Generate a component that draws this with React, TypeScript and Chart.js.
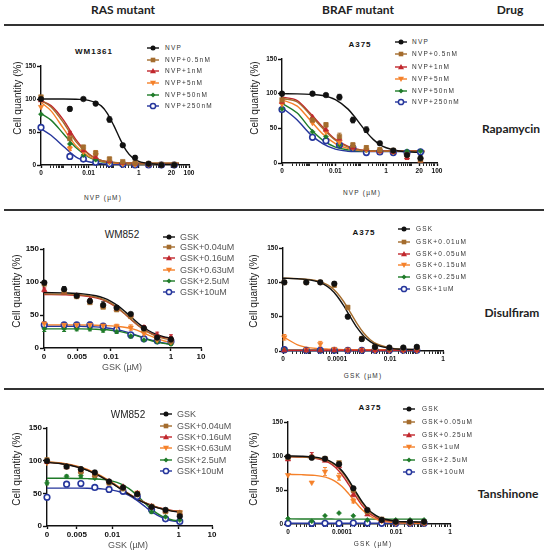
import React, { useEffect, useRef } from "react";
import { Chart, registerables } from "chart.js";
Chart.register(...registerables);

const SANS = "'Liberation Sans', Arial, sans-serif";
const HEAD = "Lato, 'Open Sans', sans-serif";
Chart.defaults.font.family = SANS;

// ---------- series colours / markers (same order in every panel) ----------
const COLORS = ["#111111", "#A46C2D", "#C1272D", "#F5812A", "#1F7B29", "#26369C"];
type Marker = "dot" | "square" | "tri" | "itri" | "diamond" | "ring";
const MARKERS: Marker[] = ["dot", "square", "tri", "itri", "diamond", "ring"];

// ---------- legend labels ----------
const nvpLabels = ["NVP", "NVP+0.5nM", "NVP+1nM", "NVP+5nM", "NVP+50nM", "NVP+250nM"];
const gskWmLabels = ["GSK", "GSK+0.04uM", "GSK+0.16uM", "GSK+0.63uM", "GSK+2.5uM", "GSK+10uM"];
const gskA375DisLabels = ["GSK", "GSK+0.01uM", "GSK+0.05uM", "GSK+0.15uM", "GSK+0.25uM", "GSK+1uM"];
const gskA375TanLabels = ["GSK", "GSK+0.05uM", "GSK+0.25uM", "GSK+1uM", "GSK+2.5uM", "GSK+10uM"];

// ---------- x tick labels ----------
const ticksNvpLabels = ["0", "0.01", "1", "20", "100"];
const ticksWmLabels = ["0", "0.005", "0.01", "1", "10"];
const ticksA375Labels = ["0", "0.0001", "0.01", "1"];

// ===== Panel 1: WM1361, NVP (Rapamycin) — x values are log10(µM) =====
const p1Ticks = [-3.9, -2, 0, 1.3, 2];
const p1Dose = [-3.9, -2.75, -2.21, -1.72, -1.17, -0.64, -0.15, 0.39, 0.9, 1.41];
const p1NVP = [100, 85, 100, 93, 69, 30, 11, 2, 0, 0];
const p1NVP05 = [103, 40, 27, 18, 9, 5, 3, 2, 1, 1];
const p1NVP1 = [98, 48, 22, 12, 6, 3, 2, 1, 0, 0];
const p1NVP5 = [88, 25, 20, 15, 5, 2, 1, 1, 0, 0];
const p1NVP50 = [77, 32, 15, 8, 4, 2, 1, 1, 0, 0];
const p1NVP250 = [57, 13, 9, 4, 2, 1, 0, 0, 0, 0];
const p1ErrNVP = [0, 3, 0, 2, 4, 2, 3, 0, 0, 0];
const p1Err05 = [0, 0, 3, 4, 3, 0, 0, 0, 0, 0];
const p1Err1 = [0, 3, 0, 0, 0, 0, 0, 0, 0, 0];
const p1Err5 = [0, 3, 0, 6, 0, 0, 0, 0, 0, 0];
const p1Err50 = [0, 0, 0, 0, 0, 0, 0, 0, 0, 0];
const p1Err250 = [2, 0, 0, 0, 0, 0, 0, 0, 0, 0];
const p1CurveX = [-3.9, -3.5, -3, -2.5, -2, -1.5, -1.25, -1, -0.75, -0.5, -0.25, 0, 0.5, 1, 1.6];
const p1FitNVP = [100, 100, 100, 99.6, 98, 89.6, 78, 60, 39.6, 21.8, 11, 5.5, 1.8, 1, 1];
const p1Fit05 = [98, 88, 64, 35, 16, 7, 5, 4, 3.5, 3, 3, 3, 3, 3, 3];
const p1Fit1 = [97, 90, 68, 38, 17, 7, 5, 4, 3, 3, 3, 2.5, 2.5, 2.5, 2.5];
const p1Fit5 = [95, 82, 55, 29, 13, 6, 4, 3, 2.5, 2, 2, 2, 2, 2, 2];
const p1Fit50 = [78, 68, 47, 26, 12, 5, 4, 3, 2.5, 2, 2, 2, 2, 2, 2];
const p1Fit250 = [55, 45, 28, 12, 5, 2, 1.5, 1, 1, 1, 1, 1, 1, 1, 1];

// ===== Panel 2: A375, NVP (Rapamycin) =====
const p2Ticks = [-4.1, -2, 0, 1.3, 2];
const p2Dose = [-4.1, -2.9, -2.37, -1.84, -1.31, -0.78, -0.25, 0.28, 0.82, 1.35];
const p2NVP = [100, 100, 98, 95, 62, 48, 28.5, 18, 11.6, 6.8];
const p2NVP05 = [91, 62, 55, 38, 26, 22, 19, 18, 12, 4];
const p2NVP1 = [88, 66, 48, 35, 22, 20, 17, 16, 8, 3];
const p2NVP5 = [85, 58, 45, 30, 22, 19, 17, 16, 10, 5];
const p2NVP50 = [78, 45, 38, 26, 22, 18, 17, 16, 17, 17];
const p2NVP250 = [77, 37, 32, 26, 22, 15, 16, 15, 15, 16];
const p2ErrNVP = [0, 0, 0, 4, 4, 4, 2, 0, 6, 4];
const p2Err05 = [0, 0, 3, 5, 3, 3, 3, 0, 0, 3];
const p2Err1 = [0, 0, 0, 0, 0, 0, 0, 0, 3, 0];
const p2Err5 = [0, 0, 0, 0, 0, 0, 0, 0, 0, 0];
const p2Err50 = [0, 0, 0, 0, 0, 0, 0, 0, 0, 0];
const p2Err250 = [0, 0, 0, 0, 0, 0, 0, 0, 0, 0];
const p2CurveX = [-4.1, -3.5, -3, -2.5, -2, -1.5, -1.25, -1, -0.75, -0.5, -0.25, 0, 0.5, 1, 1.5];
const p2FitNVP = [100, 99.7, 99, 97.4, 91.4, 77.7, 67, 55, 43.4, 33.7, 26.6, 22, 17.3, 15.8, 15.2];
const p2Fit05 = [93, 88, 70, 50, 33, 23, 20, 18.5, 18, 17.5, 17, 17, 17, 17, 17];
const p2Fit1 = [95, 90, 72, 52, 34, 24, 21, 19, 18, 17.5, 17.5, 17.5, 17.5, 17.5, 17.5];
const p2Fit5 = [91, 82, 62, 42, 28, 21, 19, 18, 17.5, 17, 17, 17, 17, 17, 17];
const p2Fit50 = [86, 72, 50, 33, 23, 19, 18, 17.5, 17, 17, 17, 17, 17, 17, 17];
const p2Fit250 = [80, 62, 42, 28, 20, 17, 16.5, 16.5, 16.5, 16.5, 16.5, 16.5, 16.5, 16.5, 16.5];

// ===== Panel 3: WM852, GSK (Disulfiram) =====
const p3Ticks = [-4.23, -3.13, -2, 0, 1];
const p3Dose = [-4.22, -3.56, -3.14, -2.7, -2.26, -1.81, -1.34, -0.9, -0.46, 0];
const p3GSK = [99, 89, 79, 71, 65, 61, 51.5, 30, 16, 13];
const p3G004 = [97, 86, 78, 69, 62, 58, 48, 28, 15, 10];
const p3G016 = [88, 84, 79, 73, 64, 59, 50, 31, 20, 16];
const p3G063 = [37, 35, 35, 35, 34, 33, 31, 22, 12, 9];
const p3G25 = [29, 29, 29, 29, 27, 25, 18, 12, 9, 6];
const p3G10 = [35, 35, 35, 35, 33, 28, 20, 14, 11, 10];
const p3ErrGSK = [0, 4, 2, 4, 5, 3, 2, 3, 3, 4];
const p3Err004 = [0, 0, 0, 0, 0, 0, 0, 0, 0, 0];
const p3Err016 = [3, 0, 0, 0, 0, 0, 0, 3, 4, 4];
const p3Err063 = [3, 3, 3, 3, 3, 3, 4, 4, 4, 3];
const p3Err25 = [4, 4, 3, 3, 3, 3, 3, 2, 2, 2];
const p3Err10 = [3, 3, 3, 4, 4, 3, 3, 3, 3, 3];
const p3CurveX = [-4.23, -3.5, -3, -2.5, -2.25, -2, -1.75, -1.5, -1.25, -1, -0.75, -0.5, -0.25, 0];
const p3FitGSK = [84, 83.5, 82.4, 79.2, 76, 70.8, 63.5, 54, 43.9, 34.2, 26.5, 20.9, 17.3, 15.1];
const p3Fit004 = [82, 81.5, 80.5, 77, 73.5, 68, 60, 50.5, 40.5, 31, 23.5, 18, 14.5, 12.5];
const p3Fit016 = [81, 80.5, 79.5, 76, 72.5, 67, 59.5, 50, 40, 31, 24, 19, 16, 14.5];
const p3Fit063 = [35, 35, 35, 34.5, 34, 33.5, 32.5, 31, 28.5, 24.5, 19.5, 15, 11, 8.5];
const p3Fit25 = [29, 29, 29, 28.5, 28, 27, 25.5, 23, 20, 16.5, 12.5, 9.5, 7, 5.5];
const p3Fit10 = [33, 33, 33, 32, 31, 29.5, 27.5, 24.5, 21, 17, 13, 10, 7.5, 6];

// ===== Panel 4: A375, GSK (Disulfiram) =====
const p4Ticks = [-6.05, -4, -2, 0];
const p4Dose = [-6.0, -5.17, -4.64, -4.11, -3.6, -3.07, -2.57, -2.03, -1.5, -0.99];
const p4GSK = [100, 100, 100, 98, 50, 17.5, 6, 5, 5, 6];
const p4G001 = [100, 100, 100, 96, 63.5, 18, 6, 4, 4, 5];
const p4G005 = [1, 1, 1, 1, 1, 1, 1, 1, 1, 1];
const p4G015 = [20, 2, 10, 3, 2, 1.5, 1, 1, 1, 1];
const p4G025 = [2, 1, 1, 1, 1, 1, 1, 1, 1, 1];
const p4G1 = [2, 1, 1, 1, 1, 1, 1, 1, 1, 1];
const p4ErrGSK = [0, 2, 0, 3, 0, 3, 2, 0, 0, 0];
const p4Err001 = [0, 0, 0, 3, 2, 2, 0, 0, 0, 0];
const p4Err005 = [0, 0, 0, 0, 0, 0, 0, 0, 0, 0];
const p4Err015 = [4, 0, 4, 0, 0, 0, 0, 0, 0, 0];
const p4Err025 = [0, 0, 0, 0, 0, 0, 0, 0, 0, 0];
const p4Err1 = [0, 0, 0, 0, 0, 0, 0, 0, 0, 0];
const p4CurveX = [-6.05, -5.5, -5, -4.75, -4.5, -4.25, -4, -3.75, -3.5, -3.25, -3, -2.75, -2.5, -2, -1.5, -1];
const p4FitGSK = [106, 105.2, 103.3, 101, 97, 90.3, 79.8, 65.6, 49.4, 34, 21.9, 13.6, 8.5, 3.9, 2.5, 2.1];
const p4Fit001 = [106, 105.4, 103.9, 102, 98.8, 93.3, 84.5, 71.7, 56, 39.8, 26.2, 16.5, 10.2, 4.5, 2.7, 2.2];
const p4Fit005 = [1.2, 1.2, 1.2, 1.2, 1.2, 1.2, 1.2, 1.2, 1.2, 1.2, 1.2, 1.2, 1.2, 1.2, 1.2, 1.2];
const p4Fit015 = [21, 9, 4.5, 3.5, 3, 2.5, 2.2, 2, 2, 2, 2, 2, 2, 2, 2, 2];
const p4Fit025 = [1, 1, 1, 1, 1, 1, 1, 1, 1, 1, 1, 1, 1, 1, 1, 1];
const p4Fit1 = [0.8, 0.8, 0.8, 0.8, 0.8, 0.8, 0.8, 0.8, 0.8, 0.8, 0.8, 0.8, 0.8, 0.8, 0.8, 0.8];

// ===== Panel 5: WM852, GSK (Tanshinone) =====
const p5Ticks = [-3.97, -3.07, -2, 0, 1];
const p5Dose = [-3.97, -3.38, -2.95, -2.53, -2.1, -1.68, -1.25, -0.82, -0.4, 0.03];
const p5GSK = [99.5, 91, 87, 82, 68, 59, 49, 29, 24.5, 15];
const p5G004 = [101, 91, 83, 78, 66, 57, 48, 30, 22, 20];
const p5G016 = [98, 90, 84, 78, 68, 60, 50, 30, 23, 20];
const p5G063 = [97, 91, 85, 78, 67, 59, 51, 30, 24, 21];
const p5G25 = [66, 76, 77, 73, 68, 57, 48, 22, 14, 9];
const p5G10 = [44, 64, 65, 59, 56, 53, 45, 25, 11, 7];
const p5ErrGSK = [3, 2, 3, 3, 3, 3, 3, 2, 3, 3];
const p5Err004 = [3, 0, 3, 3, 3, 3, 3, 2, 2, 2];
const p5Err016 = [0, 0, 0, 0, 0, 0, 0, 0, 0, 0];
const p5Err063 = [0, 0, 0, 0, 0, 0, 0, 0, 0, 0];
const p5Err25 = [3, 2, 3, 0, 0, 0, 0, 3, 0, 0];
const p5Err10 = [0, 0, 0, 0, 0, 0, 0, 0, 0, 0];
const p5CurveX = [-3.97, -3.5, -3, -2.75, -2.5, -2.25, -2, -1.75, -1.5, -1.25, -1, -0.75, -0.5, -0.25, 0.05];
const p5FitGSK = [97.4, 94.9, 89.4, 85.1, 79.4, 72.6, 64.8, 56.5, 48.3, 40.9, 34.7, 29.7, 26, 23.2, 21];
const p5Fit004 = [98, 95.5, 90, 85.6, 80, 73.2, 65.5, 57.2, 49, 41.5, 35.2, 30.2, 26.6, 24, 22];
const p5Fit016 = [97.8, 95.2, 89.7, 85.4, 79.8, 73, 65.2, 57, 48.8, 41.4, 35.3, 30.4, 26.8, 24.2, 22.3];
const p5Fit063 = [98.2, 96, 90.8, 86.6, 81, 74.2, 66.3, 57.8, 49.3, 41.5, 35, 30, 26.3, 23.6, 21.5];
const p5Fit25 = [73, 73, 72.8, 72.5, 72, 70.9, 68.7, 64.5, 57.2, 46.5, 33.9, 22.7, 14.7, 10, 7.1];
const p5Fit10 = [58, 58, 57.9, 57.7, 57.3, 56.5, 55, 52.1, 46.9, 38.8, 29, 19.7, 12.7, 8.5, 5.9];

// ===== Panel 6: A375, GSK (Tanshinone) =====
const p6Ticks = [-6, -4, -2, 0];
const p6Dose = [-6.0, -5.12, -4.63, -4.11, -3.58, -3.06, -2.53, -2.01, -1.48, -0.96];
const p6GSK = [99, 97.5, 96, 88, 52.5, 20.6, 6, 3.4, 3.4, 3.4];
const p6G005 = [98, 98, 96, 90, 50, 18, 7, 3, 2, 2];
const p6G025 = [95, 100, 93, 85, 43, 14, 5, 2, 1, 1];
const p6G1 = [72, 61, 77, 69.5, 34, 18, 4.5, 1, 1, 1];
const p6G25 = [8, 4, 12, 16, 12, 6, 6, 6, 6, 6];
const p6G10 = [1, 1, 1, 1, 1.5, 1.5, 1, 1, 1, 1];
const p6ErrGSK = [0, 0, 0, 3, 0, 0, 0, 0, 0, 0];
const p6Err005 = [0, 2, 3, 0, 3, 0, 0, 0, 0, 0];
const p6Err025 = [0, 5, 0, 0, 3, 0, 0, 0, 0, 0];
const p6Err1 = [0, 0, 6, 5, 3, 0, 0, 0, 0, 0];
const p6Err25 = [0, 0, 0, 0, 0, 0, 0, 0, 0, 0];
const p6Err10 = [0, 0, 0, 0, 0, 0, 0, 0, 0, 0];
const p6CurveX = [-6, -5.5, -5, -4.75, -4.5, -4.25, -4, -3.75, -3.5, -3.25, -3, -2.75, -2.5, -2, -1.5, -1];
const p6FitGSK = [100, 99.6, 98.3, 96.6, 93.5, 87.7, 78.3, 64.6, 48.1, 32.5, 20.4, 12.6, 8.1, 4.3, 3.2, 3];
const p6Fit005 = [99, 98.6, 97.3, 95.6, 92.3, 86.3, 76.5, 62.5, 46, 30.7, 19, 11.6, 7.3, 3.6, 2.5, 2.3];
const p6Fit025 = [99, 98.4, 96.7, 94.5, 90.5, 83.4, 72.4, 57.8, 41.5, 27, 16.3, 9.8, 6, 3, 2.2, 2];
const p6Fit1 = [73, 72.6, 71.5, 70.1, 67.5, 62.7, 55.1, 44.3, 32, 20.8, 12.5, 7.3, 4.3, 1.9, 1.1, 1];
const p6Fit25 = [7.5, 7.4, 7.3, 7.3, 7.3, 7.2, 7.2, 7.2, 7.2, 7.2, 7.2, 7.2, 7.2, 7.2, 7.2, 7.2];
const p6Fit10 = [1, 1, 1, 1, 1, 1, 1, 1, 1, 1, 1, 1, 1, 1, 1, 1];

// ---------- layout constants ----------
const YW = 34, XH = 20, TP = 8, RP = 16;

interface PanelSpec {
  area: [number, number, number, number];
  xMin: number; xMax: number;
  ticks: number[]; tickLabels: string[];
  minor: boolean; tickFont: number;
  doses: number[]; points: number[][]; errors: number[][];
  curveX: number[]; curves: number[][];
  labels: string[];
}

const errorBarPlugin = {
  id: "errorBars",
  beforeDatasetsDraw(chart: any) {
    const ctx = chart.ctx;
    const xs = chart.scales.x, ys = chart.scales.y;
    chart.data.datasets.forEach((ds: any) => {
      if (!ds.errors) return;
      ctx.save();
      ctx.strokeStyle = ds.errColor;
      ctx.lineWidth = 1;
      ds.data.forEach((p: any, i: number) => {
        const e = ds.errors[i];
        if (!e) return;
        const px = xs.getPixelForValue(p.x);
        const y1 = ys.getPixelForValue(p.y + e);
        const y2 = ys.getPixelForValue(Math.max(0, p.y - e));
        ctx.beginPath();
        ctx.moveTo(px, y1); ctx.lineTo(px, y2);
        ctx.moveTo(px - 2, y1); ctx.lineTo(px + 2, y1);
        ctx.moveTo(px - 2, y2); ctx.lineTo(px + 2, y2);
        ctx.stroke();
      });
      ctx.restore();
    });
  },
};

function pointOpts(m: Marker, color: string): any {
  const base = { pointBackgroundColor: color, pointBorderColor: color, pointBorderWidth: 0.6, pointRotation: 0 };
  switch (m) {
    case "dot": return { ...base, pointStyle: "circle", pointRadius: 2.8 };
    case "square": return { ...base, pointStyle: "rect", pointRadius: 3.2 };
    case "tri": return { ...base, pointStyle: "triangle", pointRadius: 3.1 };
    case "itri": return { ...base, pointStyle: "triangle", pointRadius: 3.1, pointRotation: 180 };
    case "diamond": return { ...base, pointStyle: "rectRot", pointRadius: 2.5 };
    default: return { pointStyle: "circle", pointRadius: 2.8, pointBackgroundColor: "#ffffff", pointBorderColor: color, pointBorderWidth: 1.6 };
  }
}

function buildTicks(spec: PanelSpec): number[] {
  const out = [...spec.ticks];
  if (spec.minor) {
    for (let n = Math.floor(spec.xMin); n <= Math.ceil(spec.xMax); n++) {
      for (let k = 1; k <= 9; k++) {
        const v = n + Math.log10(k);
        if (v <= spec.xMin + 0.3 || v > spec.xMax + 1e-6) continue;
        if (spec.ticks.some((t) => Math.abs(t - v) < 0.05)) continue;
        out.push(v);
      }
    }
  }
  return out.sort((a, b) => a - b);
}

function PanelChart({ spec }: { spec: PanelSpec }) {
  const ref = useRef<HTMLCanvasElement>(null);
  const [l, t, r, b] = spec.area;
  const cw = r - l + YW + RP;
  const ch = b - t + TP + XH;
  useEffect(() => {
    const canvas = ref.current!;
    const allTicks = buildTicks(spec);
    const isMajor = (v: number) => spec.ticks.some((tk) => Math.abs(tk - v) < 1e-6);
    const datasets: any[] = [];
    spec.points.forEach((vals, i) => {
      datasets.push({
        label: spec.labels[i],
        data: spec.doses.map((x, j) => ({ x, y: vals[j] })),
        showLine: false,
        clip: false,
        borderColor: COLORS[i],
        backgroundColor: COLORS[i],
        errors: spec.errors[i],
        errColor: COLORS[i],
        ...pointOpts(MARKERS[i], COLORS[i]),
      });
    });
    spec.curves.forEach((vals, i) => {
      datasets.push({
        label: spec.labels[i] + " fit",
        data: spec.curveX.map((x, j) => ({ x, y: vals[j] })),
        showLine: true,
        pointRadius: 0,
        pointHoverRadius: 0,
        borderColor: COLORS[i],
        backgroundColor: COLORS[i],
        borderWidth: 1.4,
        cubicInterpolationMode: "monotone",
        fill: false,
        clip: false,
      });
    });
    const chart = new Chart(canvas, {
      type: "scatter",
      data: { datasets },
      plugins: [errorBarPlugin],
      options: {
        responsive: false,
        animation: false,
        devicePixelRatio: 1,
        layout: { padding: { left: 0, right: RP, top: TP, bottom: 0 } },
        plugins: { legend: { display: false }, tooltip: { enabled: false } },
        scales: {
          x: {
            type: "linear",
            min: spec.xMin,
            max: spec.xMax,
            afterBuildTicks: (s: any) => { s.ticks = allTicks.map((v) => ({ value: v })); },
            afterFit: (s: any) => { s.height = XH; },
            ticks: {
              autoSkip: false, maxRotation: 0, minRotation: 0, padding: 1, color: "#111",
              font: { size: spec.tickFont, weight: "bold" },
              callback: (v: any) => {
                const idx = spec.ticks.findIndex((tk) => Math.abs(tk - Number(v)) < 1e-6);
                return idx >= 0 ? spec.tickLabels[idx] : "";
              },
            },
            grid: {
              drawOnChartArea: false, drawTicks: true, tickLength: 3, tickColor: "#111",
              tickWidth: (c: any) => (c.tick && isMajor(c.tick.value) ? 1.4 : 0.9),
            },
            border: { display: true, color: "#111", width: 1.4 },
          },
          y: {
            type: "linear",
            min: 0, max: 150,
            afterFit: (s: any) => { s.width = YW; },
            ticks: { stepSize: 50, padding: 1, color: "#111", font: { size: spec.tickFont, weight: "bold" } },
            grid: { drawOnChartArea: false, drawTicks: true, tickLength: 4, tickColor: "#111", tickWidth: 1.4 },
            border: { display: true, color: "#111", width: 1.4 },
          },
        },
      } as any,
    });
    return () => chart.destroy();
  }, []);
  return (
    <canvas
      ref={ref}
      width={cw}
      height={ch}
      style={{ position: "absolute", left: l - YW, top: t - TP, width: cw, height: ch }}
    />
  );
}

// ---------- text helpers ----------
const smallText: React.CSSProperties = { fontFamily: SANS, fontSize: 6.5, letterSpacing: "1.2px", color: "#333" };
const smallTitle: React.CSSProperties = { fontFamily: SANS, fontSize: 8, letterSpacing: "1px", fontWeight: "bold", color: "#111" };
const bigText: React.CSSProperties = { fontFamily: SANS, fontSize: 9, color: "#555" };
const bigTitle: React.CSSProperties = { fontFamily: SANS, fontSize: 10, color: "#222" };
const yTitleStyle: React.CSSProperties = { fontFamily: SANS, fontSize: 10, color: "#222" };
const headStyle: React.CSSProperties = { fontFamily: HEAD, fontSize: 12, fontWeight: "bold", color: "#222" };

function Txt({ x, y, style, children, rotate }: any) {
  return (
    <div
      style={{
        position: "absolute", left: x, top: y, whiteSpace: "nowrap", lineHeight: 1,
        transform: `translate(-50%, -50%)${rotate ? " rotate(-90deg)" : ""}`,
        ...style,
      }}
    >
      {children}
    </div>
  );
}

function LegendSymbol({ marker, color, x0, y, len }: any) {
  const cx = len / 2, cy = 5;
  let shape: any = null;
  if (marker === "dot") shape = <circle cx={cx} cy={cy} r={2.5} fill={color} />;
  else if (marker === "square") shape = <rect x={cx - 2.3} y={cy - 2.3} width={4.6} height={4.6} fill={color} />;
  else if (marker === "tri") shape = <polygon points={`${cx},${cy - 3} ${cx + 3},${cy + 2.2} ${cx - 3},${cy + 2.2}`} fill={color} />;
  else if (marker === "itri") shape = <polygon points={`${cx},${cy + 3} ${cx + 3},${cy - 2.2} ${cx - 3},${cy - 2.2}`} fill={color} />;
  else if (marker === "diamond") shape = <polygon points={`${cx},${cy - 2.5} ${cx + 2.5},${cy} ${cx},${cy + 2.5} ${cx - 2.5},${cy}`} fill={color} />;
  else shape = <circle cx={cx} cy={cy} r={2.6} fill="#fff" stroke={color} strokeWidth={1.5} />;
  return (
    <svg style={{ position: "absolute", left: x0, top: y - 5 }} width={len} height={10}>
      <line x1={0} y1={cy} x2={len} y2={cy} stroke={color} strokeWidth={1.4} />
      {shape}
    </svg>
  );
}

function Legend({ labels, x0, textX, rows, style }: any) {
  return (
    <>
      {labels.map((lab: string, i: number) => (
        <React.Fragment key={i}>
          <LegendSymbol marker={MARKERS[i]} color={COLORS[i]} x0={x0} y={rows[i]} len={12} />
          <div style={{ position: "absolute", left: textX, top: rows[i], transform: "translateY(-50%)", whiteSpace: "nowrap", lineHeight: 1, ...style }}>
            {lab}
          </div>
        </React.Fragment>
      ))}
    </>
  );
}

const panels: PanelSpec[] = [
  {
    area: [41, 66, 189, 165], xMin: -3.9, xMax: 2, ticks: p1Ticks, tickLabels: ticksNvpLabels, minor: true, tickFont: 6.5,
    doses: p1Dose, points: [p1NVP, p1NVP05, p1NVP1, p1NVP5, p1NVP50, p1NVP250],
    errors: [p1ErrNVP, p1Err05, p1Err1, p1Err5, p1Err50, p1Err250],
    curveX: p1CurveX, curves: [p1FitNVP, p1Fit05, p1Fit1, p1Fit5, p1Fit50, p1Fit250], labels: nvpLabels,
  },
  {
    area: [282, 59, 437, 163], xMin: -4.1, xMax: 2, ticks: p2Ticks, tickLabels: ticksNvpLabels, minor: true, tickFont: 6.5,
    doses: p2Dose, points: [p2NVP, p2NVP05, p2NVP1, p2NVP5, p2NVP50, p2NVP250],
    errors: [p2ErrNVP, p2Err05, p2Err1, p2Err5, p2Err50, p2Err250],
    curveX: p2CurveX, curves: [p2FitNVP, p2Fit05, p2Fit1, p2Fit5, p2Fit50, p2Fit250], labels: nvpLabels,
  },
  {
    area: [44, 249, 201, 348], xMin: -4.23, xMax: 1, ticks: p3Ticks, tickLabels: ticksWmLabels, minor: false, tickFont: 8,
    doses: p3Dose, points: [p3GSK, p3G004, p3G016, p3G063, p3G25, p3G10],
    errors: [p3ErrGSK, p3Err004, p3Err016, p3Err063, p3Err25, p3Err10],
    curveX: p3CurveX, curves: [p3FitGSK, p3Fit004, p3Fit016, p3Fit063, p3Fit25, p3Fit10], labels: gskWmLabels,
  },
  {
    area: [283, 248, 443, 351], xMin: -6.05, xMax: 0, ticks: p4Ticks, tickLabels: ticksA375Labels, minor: true, tickFont: 6.5,
    doses: p4Dose, points: [p4GSK, p4G001, p4G005, p4G015, p4G025, p4G1],
    errors: [p4ErrGSK, p4Err001, p4Err005, p4Err015, p4Err025, p4Err1],
    curveX: p4CurveX, curves: [p4FitGSK, p4Fit001, p4Fit005, p4Fit015, p4Fit025, p4Fit1], labels: gskA375DisLabels,
  },
  {
    area: [47, 428, 212, 526], xMin: -3.97, xMax: 1, ticks: p5Ticks, tickLabels: ticksWmLabels, minor: false, tickFont: 8,
    doses: p5Dose, points: [p5GSK, p5G004, p5G016, p5G063, p5G25, p5G10],
    errors: [p5ErrGSK, p5Err004, p5Err016, p5Err063, p5Err25, p5Err10],
    curveX: p5CurveX, curves: [p5FitGSK, p5Fit004, p5Fit016, p5Fit063, p5Fit25, p5Fit10], labels: gskWmLabels,
  },
  {
    area: [288, 422, 450, 524], xMin: -6, xMax: 0, ticks: p6Ticks, tickLabels: ticksA375Labels, minor: true, tickFont: 6.5,
    doses: p6Dose, points: [p6GSK, p6G005, p6G025, p6G1, p6G25, p6G10],
    errors: [p6ErrGSK, p6Err005, p6Err025, p6Err1, p6Err25, p6Err10],
    curveX: p6CurveX, curves: [p6FitGSK, p6Fit005, p6Fit025, p6Fit1, p6Fit25, p6Fit10], labels: gskA375TanLabels,
  },
];

export default function App() {
  return (
    <div style={{ position: "absolute", left: 0, top: 0, width: 550, height: 552, background: "#fff", overflow: "hidden" }}>
      {/* headers */}
      <Txt x={123} y={10} style={headStyle}>RAS mutant</Txt>
      <Txt x={358} y={10} style={headStyle}>BRAF mutant</Txt>
      <Txt x={510} y={10} style={headStyle}>Drug</Txt>
      <div style={{ position: "absolute", left: 4, top: 24, width: 540, height: 2, background: "#333" }} />
      <div style={{ position: "absolute", left: 4, top: 209, width: 540, height: 2, background: "#333" }} />
      <div style={{ position: "absolute", left: 4, top: 388, width: 540, height: 2, background: "#333" }} />
      <Txt x={511} y={129} style={headStyle}>Rapamycin</Txt>
      <Txt x={512} y={313} style={headStyle}>Disulfiram</Txt>
      <Txt x={508} y={494} style={headStyle}>Tanshinone</Txt>

      {panels.map((p, i) => <PanelChart key={i} spec={p} />)}

      {/* Panel 1 */}
      <Txt x={94} y={52} style={smallTitle}>WM1361</Txt>
      <Txt x={103} y={198} style={smallText}>NVP (µM)</Txt>
      <Txt x={18} y={98} style={yTitleStyle} rotate>Cell quantity (%)</Txt>
      <Legend labels={nvpLabels} x0={147} textX={165} rows={[48.3, 60.3, 71.3, 83.3, 95, 106.3]} style={smallText} />

      {/* Panel 2 */}
      <Txt x={360} y={45} style={smallTitle}>A375</Txt>
      <Txt x={362} y={193} style={smallText}>NVP (µM)</Txt>
      <Txt x={255} y={98} style={yTitleStyle} rotate>Cell quantity (%)</Txt>
      <Legend labels={nvpLabels} x0={395} textX={412} rows={[41.7, 54.3, 66.7, 79, 90.7, 101.7]} style={smallText} />

      {/* Panel 3 */}
      <Txt x={122} y={235} style={bigTitle}>WM852</Txt>
      <Txt x={122} y={367} style={bigText}>GSK (µM)</Txt>
      <Txt x={17} y={291} style={yTitleStyle} rotate>Cell quantity (%)</Txt>
      <Legend labels={gskWmLabels} x0={163} textX={180} rows={[236.7, 247.3, 258.3, 270, 281, 292.3]} style={bigText} />

      {/* Panel 4 */}
      <Txt x={364} y={233} style={smallTitle}>A375</Txt>
      <Txt x={363} y={376} style={smallText}>GSK (µM)</Txt>
      <Txt x={254} y={291} style={yTitleStyle} rotate>Cell quantity (%)</Txt>
      <Legend labels={gskA375DisLabels} x0={398} textX={416} rows={[229.3, 241.7, 253.7, 265.3, 276.7, 288.7]} style={smallText} />

      {/* Panel 5 */}
      <Txt x={128} y={415} style={bigTitle}>WM852</Txt>
      <Txt x={128} y={545} style={bigText}>GSK (µM)</Txt>
      <Txt x={17} y={469} style={yTitleStyle} rotate>Cell quantity (%)</Txt>
      <Legend labels={gskWmLabels} x0={160} textX={177} rows={[414, 425.7, 437, 448.3, 459.7, 471]} style={bigText} />

      {/* Panel 6 */}
      <Txt x={370} y={408} style={smallTitle}>A375</Txt>
      <Txt x={373} y={544} style={smallText}>GSK (µM)</Txt>
      <Txt x={254} y={469} style={yTitleStyle} rotate>Cell quantity (%)</Txt>
      <Legend labels={gskA375TanLabels} x0={403} textX={422} rows={[408.7, 421.7, 434.7, 446.7, 459.7, 472.3]} style={smallText} />
    </div>
  );
}
